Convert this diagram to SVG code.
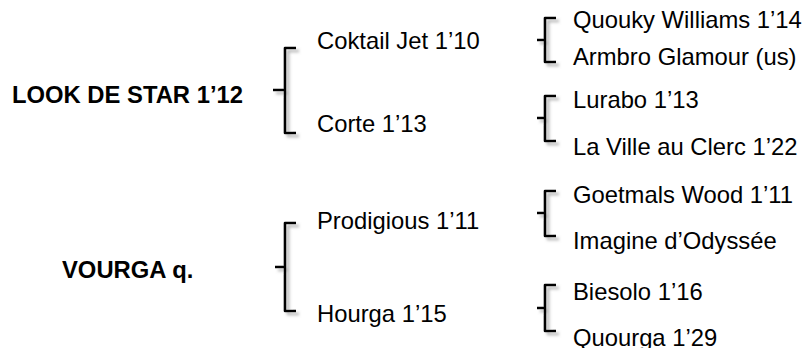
<svg xmlns="http://www.w3.org/2000/svg" width="805" height="348" viewBox="0 0 805 348">
<style>
.t{font-family:"Liberation Sans",Arial,sans-serif;font-size:23.8px;fill:#000}
.b{font-weight:bold}
.br{fill:none;stroke:#000;stroke-width:2.6;stroke-linejoin:round;stroke-linecap:butt}
</style>
<defs>
<filter id="sh" x="-50%" y="-10%" width="200%" height="120%">
<feDropShadow dx="3" dy="3" stdDeviation="1.5" flood-color="#808080" flood-opacity="0.6"/>
</filter>
</defs>
<rect width="805" height="348" fill="#fff"/>
<g id="connectors" filter="url(#sh)">
<path class="br" d="M296,48 H285 V133 H296 M285,90 H273"/>
<path class="br" d="M296,223 H285 V311 H296 M285,267 H275"/>
<path class="br" d="M556,18 H545 V62 H556 M545,40 H537"/>
<path class="br" d="M556,96 H545 V141 H556 M545,118 H537"/>
<path class="br" d="M556,191 H545 V236 H556 M545,213 H537"/>
<path class="br" d="M556,285 H545 V331 H556 M545,308 H537"/>
</g>
<g id="look"><text class="t b" x="12" y="103">LOOK DE STAR 1’12</text></g>
<g id="vourga"><text class="t b" x="62" y="278">VOURGA q.</text></g>
<g id="coktail"><text class="t" x="317" y="49">Coktail Jet 1’10</text></g>
<g id="corte"><text class="t" x="317" y="132">Corte 1’13</text></g>
<g id="prodigious"><text class="t" x="317" y="229">Prodigious 1’11</text></g>
<g id="hourga"><text class="t" x="317" y="322">Hourga 1’15</text></g>
<g id="quouky"><text class="t" x="573" y="28">Quouky Williams 1’14</text></g>
<g id="armbro"><text class="t" x="573" y="65">Armbro Glamour (us)</text></g>
<g id="lurabo"><text class="t" x="573" y="108">Lurabo 1’13</text></g>
<g id="laville"><text class="t" x="573" y="155">La Ville au Clerc 1’22</text></g>
<g id="goetmals"><text class="t" x="573" y="203">Goetmals Wood 1’11</text></g>
<g id="imagine"><text class="t" x="573" y="249">Imagine d’Odyssée</text></g>
<g id="biesolo"><text class="t" x="573" y="300">Biesolo 1’16</text></g>
<g id="quourga"><text class="t" x="573" y="346">Quourga 1’29</text></g>
</svg>
